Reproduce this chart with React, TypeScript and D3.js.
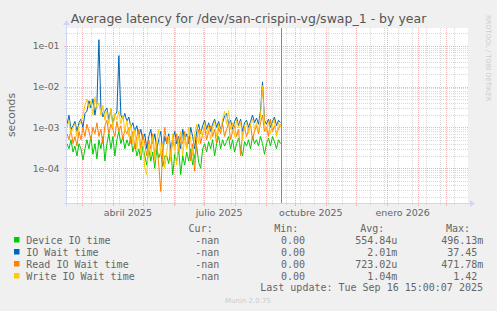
import React from 'react';
import * as d3 from 'd3';

// ---- data (one sample every 2 days starting 2025-02-14) ----
const sampleStart = new Date(2025, 1, 14);
const sampleStepDays = 2;
const domainStart = new Date(2025, 1, 14);
const domainEnd = new Date(2026, 2, 23);
const lastUpdate = new Date(2025, 8, 16, 15, 0, 7);
const minorGridAnchor = new Date(2025, 1, 24);

const deviceIO = [
  4e-4, 3e-4, 5e-4, 2.5e-4, 3.5e-4, 2e-4, 4e-4, 3e-4, 1.6e-4, 3e-4,
  5e-4, 3e-4, 6e-4, 2.2e-4, 4e-4, 1.7e-4, 5e-4, 3e-4, 6e-4, 1.5e-4,
  4e-4, 7e-4, 3e-4, 6e-4, 2e-4, 5e-4, 8e-4, 4e-4, 6e-4, 3e-4,
  5e-4, 3.5e-4, 6e-4, 2.5e-4, 4e-4, 2e-4, 3e-4, 1.6e-4, 3.5e-4, 2e-4,
  1.2e-4, 3e-4, 1.5e-4, 2.5e-4, 1e-4, 3e-4, 1.8e-4, 2.5e-4, 1.1e-4, 2e-4,
  2e-4, 1.3e-4, 3e-4, 7e-5, 2.2e-4, 1.5e-4, 2.8e-4, 7e-5, 2e-4, 1.2e-4,
  2.5e-4, 1.5e-4, 3e-4, 1.2e-4, 2e-4, 3.5e-4, 1.4e-4, 1e-4, 3e-4, 4e-4,
  2.5e-4, 4.5e-4, 3e-4, 5e-4, 2e-4, 4e-4, 6e-4, 3e-4, 5e-4, 3.5e-4,
  4.5e-4, 6e-4, 3e-4, 5e-4, 2.5e-4, 4e-4, 5.5e-4, 3e-4, 2e-4, 4.5e-4,
  3.5e-4, 5e-4, 3e-4, 6e-4, 4e-4, 5e-4, 3.5e-4, 6e-4, 4e-4, 2.2e-4,
  4e-4, 5.5e-4, 3.5e-4, 6e-4, 4.5e-4, 3e-4, 5e-4, 4e-4,
];
const ioWait = [
  1.2e-3, 2e-3, 9e-4, 1.1e-3, 1.4e-3, 8e-4, 1.3e-3, 1.6e-3, 1e-3, 2.2e-3,
  2.5e-3, 4.5e-3, 3e-3, 5e-3, 2e-3, 4e-3, 1.4e-1, 3e-3, 1.8e-3, 2.5e-3,
  3e-3, 1.5e-3, 2.8e-3, 1.2e-3, 2e-3, 2.4e-3, 5.7e-2, 2e-3, 1.6e-3, 2.2e-3,
  1.4e-3, 1.8e-3, 1e-3, 1.3e-3, 8e-4, 1.1e-3, 6e-4, 9e-4, 5e-4, 7e-4,
  3e-4, 6e-4, 9e-4, 4e-4, 7e-4, 3e-4, 5e-4, 8e-4, 2.5e-4, 6e-4,
  4e-4, 7e-4, 3e-4, 5e-4, 8e-4, 4e-4, 6e-4, 3e-4, 9e-4, 5e-4,
  7e-4, 4e-4, 1e-3, 6e-4, 3e-4, 8e-4, 1.2e-3, 7e-4, 1.1e-3, 1.5e-3,
  9e-4, 1.3e-3, 8e-4, 1.2e-3, 1.6e-3, 1e-3, 1.4e-3, 9e-4, 1.3e-3, 1.9e-3,
  2.2e-3, 1.2e-3, 1.5e-3, 9e-4, 1.4e-3, 1.8e-3, 1.1e-3, 1.6e-3, 8e-4, 1.3e-3,
  1.5e-3, 1e-3, 1.4e-3, 2e-3, 1.3e-3, 1.7e-3, 1.2e-3, 2.5e-3, 1.3e-2, 1.5e-3,
  1.2e-3, 1.6e-3, 1e-3, 1.4e-3, 1.8e-3, 1.1e-3, 1.5e-3, 1.3e-3,
];
const readIO = [
  7e-4, 5e-4, 9e-4, 4e-4, 6e-4, 3.5e-4, 8e-4, 5e-4, 1e-3, 6e-4,
  1.2e-3, 8e-4, 5e-4, 1e-3, 7e-4, 1.3e-3, 6e-4, 9e-4, 4e-4, 1.1e-3,
  1.5e-3, 7e-4, 1.2e-3, 9e-4, 6e-4, 1.4e-3, 8e-4, 1.1e-3, 5e-4, 9e-4,
  7e-4, 1e-3, 4e-4, 8e-4, 3e-4, 6e-4, 9e-4, 3e-4, 7e-4, 4e-4,
  2e-4, 5e-4, 3e-4, 7e-4, 2e-4, 4e-4, 1.2e-4, 2.7e-5, 3e-4, 1e-3,
  4e-4, 6e-4, 2e-4, 5e-4, 3e-4, 7e-4, 2.5e-4, 6e-4, 4e-4, 8e-4,
  3e-4, 6e-4, 1.5e-4, 4e-4, 8.5e-5, 5e-4, 9e-4, 4e-4, 7e-4, 1e-3,
  5e-4, 8e-4, 1.1e-3, 6e-4, 9e-4, 4e-4, 1e-3, 7e-4, 1.2e-3, 6e-4,
  9e-4, 1.3e-3, 5e-4, 8e-4, 1.1e-3, 6e-4, 9e-4, 2e-4, 7e-4, 1e-3,
  6e-4, 9e-4, 1.2e-3, 5e-4, 8e-4, 1.1e-3, 7e-4, 1.3e-3, 2e-3, 8e-4,
  1e-3, 6e-4, 1.6e-3, 8e-4, 1.1e-3, 7e-4, 9e-4, 1.2e-3,
];
const writeIO = [
  1e-3, 1.5e-3, 7e-4, 1e-3, 1.2e-3, 6e-4, 1.1e-3, 1.4e-3, 2e-3, 3.5e-3,
  5e-3, 3e-3, 4.5e-3, 2e-3, 5.5e-3, 3e-3, 4e-3, 2e-3, 3.5e-3, 1.5e-3,
  2.5e-3, 1.2e-3, 3e-3, 1e-3, 2.2e-3, 1.5e-3, 2.5e-3, 1.2e-3, 2e-3, 8e-4,
  1.5e-3, 6e-4, 1.2e-3, 4e-4, 9e-4, 3e-4, 7e-4, 2e-4, 5e-4, 1e-4,
  7e-5, 4e-4, 2e-4, 6e-4, 1.5e-4, 5e-4, 9e-4, 2e-4, 4e-4, 1e-4,
  2.5e-4, 6e-4, 1.5e-4, 7e-4, 3e-4, 1.2e-4, 5e-4, 8e-4, 2e-4, 6e-4,
  3e-4, 1e-3, 5e-4, 2e-4, 7e-4, 1.2e-3, 4e-4, 9e-4, 6e-4, 1.3e-3,
  7e-4, 1.1e-3, 5e-4, 1e-3, 1.4e-3, 6e-4, 1.2e-3, 8e-4, 1.6e-3, 2.5e-3,
  1.2e-3, 2.6e-3, 9e-4, 1.3e-3, 6e-4, 1.5e-3, 1e-3, 1.4e-3, 5e-4, 1.1e-3,
  1.3e-3, 7e-4, 1.2e-3, 1.6e-3, 9e-4, 1.3e-3, 8e-4, 2e-3, 1.05e-2, 1.2e-3,
  8e-4, 1.4e-3, 7e-4, 1.2e-3, 1.5e-3, 6e-4, 1.3e-3, 1e-3,
];

const seriesNames = ['Device IO time', 'IO Wait time', 'Read IO Wait time', 'Write IO Wait time'];
const seriesColors = ['#00CC00', '#0066B3', '#FF8000', '#FFCC00'];
const curVals = ['-nan', '-nan', '-nan', '-nan'];
const minVals = ['0.00', '0.00', '0.00', '0.00'];
const avgVals = ['554.84u', '2.01m', '723.02u', '1.04m'];
const maxVals = ['496.13m', '37.45', '471.78m', '1.42'];

const yTickValues = [1e-1, 1e-2, 1e-3, 1e-4];
const yTickLabels = ['1e-01', '1e-02', '1e-03', '1e-04'];
const xLabelMonths = [new Date(2025, 3, 1), new Date(2025, 6, 1), new Date(2025, 9, 1), new Date(2026, 0, 1)];
const xLabels = ['abril 2025', 'julio 2025', 'octubre 2025', 'enero 2026'];

const title = 'Average latency for /dev/san-crispin-vg/swap_1 - by year';
const yAxisLabel = 'seconds';
const lastUpdateText = 'Last update: Tue Sep 16 15:00:07 2025';

// ---- layout ----
const W = 497, H = 311;
const PL = 67, PR = 468, PT = 28, PB = 203;
const SANS = 'DejaVu Sans, sans-serif';
const MONO = 'DejaVu Sans Mono, monospace';
const FONT_COLOR = '#666666';
const AXIS_COLOR = '#CFD6F8';
const GRID = '#D9D9D9';
const MGRID = '#EFB4B4';

export default function App() {
  const x = d3.scaleTime().domain([domainStart, domainEnd]).range([PL, PR]);
  const y = d3.scaleLog().domain([1.416e-5, 0.271]).range([PB, PT]);
  const dateAt = (i: number) => d3.timeDay.offset(sampleStart, i * sampleStepDays);

  const series = [deviceIO, ioWait, readIO, writeIO];
  const line = d3.line<number>().x((_, i) => x(dateAt(i))).y((d) => y(d));

  const [ylo, yhi] = y.domain();
  const minorY: number[] = [];
  for (let n = -6; n <= 0; n++) {
    for (let k = 2; k <= 9; k++) {
      const v = k * Math.pow(10, n);
      if (v > ylo && v < yhi) minorY.push(v);
    }
  }
  const majorY = yTickValues;

  const majorX = d3.timeMonth.range(d3.timeMonth.ceil(domainStart), domainEnd);
  const minorX: Date[] = [];
  for (let d = minorGridAnchor; d < domainEnd; d = d3.timeDay.offset(d, 14)) minorX.push(d);

  const rowY = [240, 252, 264, 276];
  const cw = 6.02;
  const px = (v: number) => Math.round(v) + 0.5;

  return (
    <svg width={W} height={H} style={{ position: 'absolute', left: 0, top: 0 }} xmlns="http://www.w3.org/2000/svg">
      <rect x={0} y={0} width={W} height={H} fill="#F0F0F0" />
      <rect x={PL} y={PT} width={PR - PL} height={PB - PT} fill="#FFFFFF" />
      <defs>
        <clipPath id="plotclip">
          <rect x={PL} y={PT - 2} width={PR - PL} height={PB - PT + 2} />
        </clipPath>
      </defs>

      {minorY.map((v, i) => (
        <g key={'my' + i}>
          <line x1={PL} x2={PR} y1={px(y(v))} y2={px(y(v))} stroke={GRID} strokeDasharray="1,1" />
          <line x1={PL - 2} x2={PL} y1={px(y(v))} y2={px(y(v))} stroke={GRID} />
        </g>
      ))}
      {minorX.map((d, i) => (
        <g key={'mx' + i}>
          <line x1={px(x(d))} x2={px(x(d))} y1={PT} y2={PB} stroke={GRID} strokeDasharray="1,1" />
          <line x1={px(x(d))} x2={px(x(d))} y1={PB} y2={PB + 2} stroke={GRID} />
        </g>
      ))}
      {majorY.map((v, i) => (
        <g key={'My' + i}>
          <line x1={PL} x2={PR} y1={px(y(v))} y2={px(y(v))} stroke={MGRID} strokeDasharray="1,1" />
          <line x1={PL - 3} x2={PL} y1={px(y(v))} y2={px(y(v))} stroke={MGRID} />
        </g>
      ))}
      {majorX.map((d, i) => (
        <g key={'Mx' + i}>
          <line x1={px(x(d))} x2={px(x(d))} y1={PT} y2={PB} stroke={MGRID} strokeDasharray="1,1" />
          <line x1={px(x(d))} x2={px(x(d))} y1={PB} y2={PB + 3} stroke={MGRID} />
        </g>
      ))}

      <g clipPath="url(#plotclip)">
        {series.map((s, i) => (
          <path key={'s' + i} d={line(s) || ''} fill="none" stroke={seriesColors[i]} strokeWidth={1} />
        ))}
      </g>

      <line x1={px(x(lastUpdate))} x2={px(x(lastUpdate))} y1={PT} y2={PB} stroke="#888888" strokeWidth={1} />

      <line x1={PL - 3} x2={PR + 2} y1={PB + 0.5} y2={PB + 0.5} stroke={AXIS_COLOR} />
      <line x1={PL - 0.5} x2={PL - 0.5} y1={PB + 3} y2={PT - 4} stroke={AXIS_COLOR} />
      <path d={`M${PR + 2},${PB - 3} L${PR + 7},${PB + 0.5} L${PR + 2},${PB + 4} Z`} fill={AXIS_COLOR} />
      <path d={`M${PL - 4},${PT - 3} L${PL - 0.5},${PT - 8} L${PL + 3},${PT - 3} Z`} fill={AXIS_COLOR} />

      {yTickValues.map((v, i) => (
        <text key={'yl' + i} x={59.5} y={y(v) + 3.4} textAnchor="end" fontFamily={SANS} fontSize={9.3} fill={FONT_COLOR}>
          {yTickLabels[i]}
        </text>
      ))}
      {xLabelMonths.map((d, i) => {
        const mid = new Date((d.getTime() + d3.timeMonth.offset(d, 1).getTime()) / 2);
        return (
          <text key={'xl' + i} x={x(mid)} y={215.5} textAnchor="middle" fontFamily={SANS} fontSize={9.5} fill={FONT_COLOR}>
            {xLabels[i]}
          </text>
        );
      })}

      <text x={W / 2} y={22.5} textAnchor="middle" fontFamily={SANS} fontSize={12.5} fill="#555555">{title}</text>
      <text transform={`translate(15,115) rotate(-90)`} textAnchor="middle" fontFamily={SANS} fontSize={10.8} fill={FONT_COLOR}>{yAxisLabel}</text>
      <text transform={`translate(485.5,15) rotate(90)`} textAnchor="start" fontFamily={SANS} fontSize={6.7} fill="#CCCCCC">RRDTOOL / TOBI OETIKER</text>

      <g fontFamily={MONO} fontSize={10} fill={FONT_COLOR}>
        <text x={212.7} y={231.8} textAnchor="end">Cur:</text>
        <text x={298.3} y={231.8} textAnchor="end">Min:</text>
        <text x={384.3} y={231.8} textAnchor="end">Avg:</text>
        <text x={470} y={231.8} textAnchor="end">Max:</text>
        {seriesNames.map((n, i) => {
          const by = rowY[i] + 3.5;
          const adj = (s: string) => (/[0-9]$/.test(s) ? cw : 0);
          return (
            <g key={'lg' + i}>
              <rect x={14} y={rowY[i] - 3} width={5.5} height={5.5} fill={seriesColors[i]} />
              <text x={26.3} y={by}>{n}</text>
              <text x={219.3} y={by} textAnchor="end">{curVals[i]}</text>
              <text x={305} y={by} textAnchor="end">{minVals[i]}</text>
              <text x={397.3 - adj(avgVals[i])} y={by} textAnchor="end">{avgVals[i]}</text>
              <text x={483.3 - adj(maxVals[i])} y={by} textAnchor="end">{maxVals[i]}</text>
            </g>
          );
        })}
        <text x={483} y={291} textAnchor="end">{lastUpdateText}</text>
      </g>
      <text x={248} y={303} textAnchor="middle" fontFamily={SANS} fontSize={7} fill="#CCCCCC">Munin 2.0.75</text>
    </svg>
  );
}
